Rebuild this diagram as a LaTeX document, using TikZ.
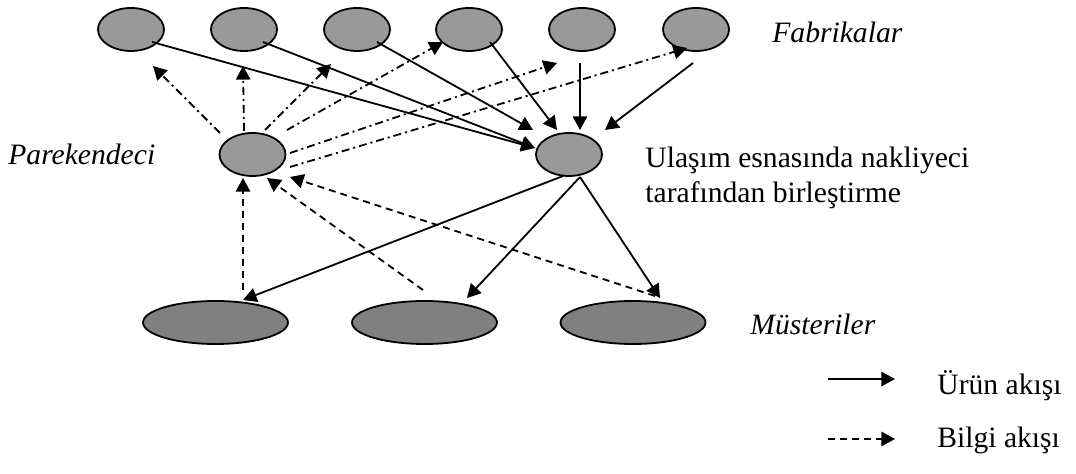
\documentclass[tikz,border=0pt]{standalone}
\usepackage{fontspec}
\setmainfont{Liberation Serif}
\usetikzlibrary{arrows.meta,calc,shapes.geometric}
\definecolor{facgray}{RGB}{153,153,153}
\definecolor{cusgray}{RGB}{128,128,128}
\begin{document}
\begin{tikzpicture}[x=0.5pt,y=-0.5pt,
  fac/.style={ellipse,draw,line width=0.9pt,fill=facgray,minimum width=33pt,minimum height=21.5pt,inner sep=0pt},
  cus/.style={ellipse,draw,line width=0.9pt,fill=cusgray,minimum width=72.5pt,minimum height=21.5pt,inner sep=0pt},
  flow/.style={line width=0.9pt,-{Triangle[length=6.8pt,width=7.2pt]}},
  info/.style={flow,dash pattern=on 3.5pt off 2.5pt},
  infodd/.style={flow,dash pattern=on 4pt off 2pt on 1pt off 2pt},
  lab/.style={inner sep=0pt,anchor=base west,font=\fontsize{14.8}{17}\selectfont},
  ilab/.style={inner sep=0pt,anchor=base west,font=\fontsize{14.8}{17}\selectfont\itshape}]
\useasboundingbox (0,0) rectangle (1076,474);
% factories
\node[fac] (f1) at (131,29.5) {};
\node[fac] (f2) at (244,29.5) {};
\node[fac] (f3) at (357,29.5) {};
\node[fac] (f4) at (469,29.5) {};
\node[fac] (f5) at (582,29.5) {};
\node[fac] (f6) at (696,29.5) {};
% retailer and transporter
\node[fac] (p) at (252.5,154.5) {};
\node[fac] (t) at (569,154.5) {};
% customers
\node[cus] (b1) at (215.5,322.5) {};
\node[cus] (b2) at (424.5,322.5) {};
\node[cus] (b3) at (633,322.5) {};
% product flow: factories -> transporter
\draw[flow] ($(f1)+(21,12.5)$) -- ($(t)+(-34,-6.5)$);
\draw[flow] ($(f2)+(19,12.5)$) -- ($(t)+(-34,-6.5)$);
\draw[flow] ($(f3)+(20,12.5)$) -- ($(t)+(-36,-24.5)$);
\draw[flow] ($(f4)+(21,12.5)$) -- ($(t)+(-12,-24.5)$);
\draw[flow] ($(f5)+(-2,33.5)$) -- ($(t)+(11,-24.5)$);
\draw[flow] ($(f6)+(-3,33.5)$) -- ($(t)+(36,-24.5)$);
% product flow: transporter -> customers
\draw[flow] ($(t)+(-6,21.5)$) -- ($(b1)+(27.5,-22.5)$);
\draw[flow] ($(t)+(11,22.5)$) -- ($(b2)+(42.5,-24.5)$);
\draw[flow] ($(t)+(11,22.5)$) -- ($(b3)+(27,-24.5)$);
% information flow: customers -> retailer
\draw[info] ($(b1)+(27.5,-32.5)$) -- ($(p)+(-9.5,23.5)$);
\draw[info] ($(b2)+(-1.5,-32.5)$) -- ($(p)+(14.5,23.5)$);
\draw[info] ($(b3)+(22,-26.5)$) -- ($(p)+(37.5,22.5)$);
% information flow: retailer -> factories
\draw[infodd] ($(p)+(-32.5,-21.5)$) -- ($(f1)+(22,36.5)$);
\draw[infodd] ($(p)+(-8.5,-23.5)$) -- ($(f2)+(-1,36.5)$);
\draw[infodd] ($(p)+(12.5,-24.5)$) -- ($(f3)+(-26,34.5)$);
\draw[infodd] ($(p)+(34.5,-24.5)$) -- ($(f4)+(-26,12.5)$);
\draw[infodd] ($(p)+(37.5,-1.5)$) -- ($(f5)+(-25,33.5)$);
\draw[infodd] ($(p)+(37.5,12.5)$) -- ($(f6)+(-9,18.5)$);
% labels
\node[ilab] (lfab) at (772,43) {Fabrikalar};
\node[ilab] (lpar) at (8,165) {Parekendeci};
\node[lab] (lt1) at (645,168) {Ulaşım esnasında nakliyeci};
\node[lab] (lt2) at (645,203) {tarafından birleştirme};
\node[ilab] (lmus) at (750,335) {Müsteriler};
% legend
\coordinate (l1a) at (828,379);
\coordinate (l1b) at (895,379);
\coordinate (l2a) at (828,439);
\coordinate (l2b) at (895,439);
\draw[flow] (l1a) -- (l1b);
\draw[info] (l2a) -- (l2b);
\node[lab] (lurun) at (937,395) {Ürün akışı};
\node[lab] (lbil) at (937,448) {Bilgi akışı};
\end{tikzpicture}
\end{document}
